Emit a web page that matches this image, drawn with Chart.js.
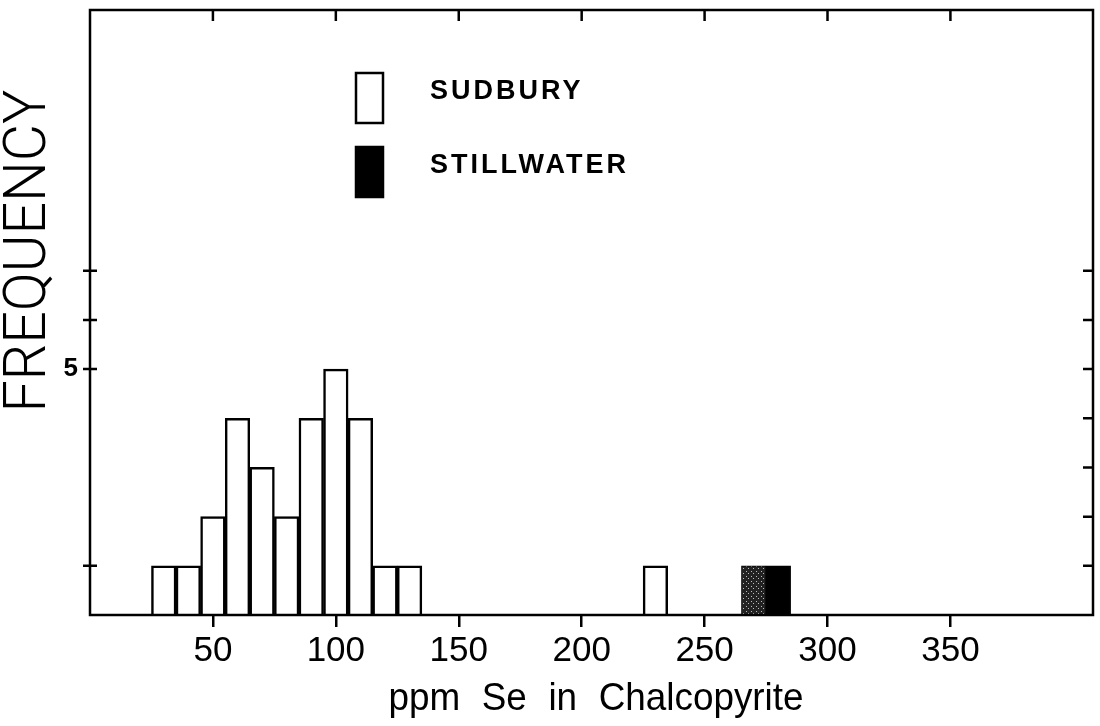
<!DOCTYPE html>
<html>
<head>
<meta charset="utf-8">
<script src="https://cdn.jsdelivr.net/npm/chart.js@4.4.0/dist/chart.umd.min.js"></script>
<style>
  html, body { margin: 0; padding: 0; background: #fff; }
</style>
</head>
<body>
<canvas id="seChart" width="1100" height="726"></canvas>
<script>
// histogram bins (ppm Se, bin centre) and counts
const sudburyBins = [30, 40, 50, 60, 70, 80, 90, 100, 110, 120, 130, 230];
const sudburyCounts = [1, 1, 2, 4, 3, 2, 4, 5, 4, 1, 1, 1];
const stillwaterBins = [270, 280];
const stillwaterCounts = [1, 1];

// axis ticks
const xTicks = [50, 100, 150, 200, 250, 300, 350];
const leftTicks = [1, 5, 6, 7];
const rightTicks = [1, 2, 3, 4, 5, 6, 7];
const yLabelled = [5];

// dotted grey fill for the first stillwater bin
function stipple() {
  const c = document.createElement('canvas');
  c.width = 5; c.height = 5;
  const g = c.getContext('2d');
  g.fillStyle = '#222';
  g.fillRect(0, 0, 5, 5);
  g.fillStyle = '#bbb';
  g.fillRect(1, 1, 1, 1);
  g.fillRect(3, 3, 1, 1);
  return g.createPattern(c, 'repeat');
}

const frame = {
  id: 'frame',
  afterDatasetsDraw(chart) {
    const { ctx, chartArea: a, scales: { x, y } } = chart;
    ctx.save();
    ctx.strokeStyle = '#000';
    ctx.fillStyle = '#000';
    ctx.lineWidth = 2.5;
    ctx.strokeRect(a.left, a.top, a.right - a.left, a.bottom - a.top);

    // inner tick marks on top, left and right edges
    ctx.lineWidth = 2.5;
    ctx.beginPath();
    xTicks.forEach(v => {
      const px = x.getPixelForValue(v);
      ctx.moveTo(px, a.top); ctx.lineTo(px, a.top + 11);
    });
    leftTicks.forEach(v => {
      const py = y.getPixelForValue(v);
      ctx.moveTo(a.left - 7, py); ctx.lineTo(a.left + 7, py);
    });
    rightTicks.forEach(v => {
      const py = y.getPixelForValue(v);
      ctx.moveTo(a.right - 10, py); ctx.lineTo(a.right, py);
    });
    ctx.stroke();

    // legend
    chart.data.datasets.forEach((ds, i) => {
      const bx = a.left + 266, by = 73 + i * 74;
      ctx.fillStyle = ds.legendFill;
      ctx.fillRect(bx, by, 27, 50);
      ctx.lineWidth = 2.5;
      ctx.strokeRect(bx, by, 27, 50);
      ctx.fillStyle = '#000';
      ctx.font = 'bold 27px "Liberation Sans", Arial, sans-serif';
      ctx.letterSpacing = '3px';
      ctx.textBaseline = 'middle';
      ctx.textAlign = 'left';
      ctx.fillText(ds.label, a.left + 340, by + 19);
    });
    ctx.letterSpacing = '0px';

    // y title
    ctx.save();
    ctx.translate(30, 251);
    ctx.rotate(-Math.PI / 2);
    ctx.font = '300 60px Roboto, "Liberation Sans", sans-serif';
    ctx.textAlign = 'center';
    ctx.textBaseline = 'middle';
    const yt = 'FREQUENCY';
    ctx.scale(323 / ctx.measureText(yt).width, 1);
    ctx.fillText(yt, 0, 0);
    ctx.restore();

    // x title
    ctx.save();
    ctx.font = '39px "Liberation Sans", Arial, sans-serif';
    ctx.wordSpacing = '12px';
    ctx.textAlign = 'center';
    ctx.textBaseline = 'alphabetic';
    const xt = 'ppm Se in Chalcopyrite';
    ctx.translate(596, 710);
    ctx.scale(415 / ctx.measureText(xt).width, 1);
    ctx.fillText(xt, 0, 0);
    ctx.restore();

    ctx.restore();
  }
};

const ctx = document.getElementById('seChart').getContext('2d');
new Chart(ctx, {
  type: 'bar',
  data: {
    datasets: [
      {
        label: 'SUDBURY',
        data: sudburyBins.map((b, i) => ({ x: b, y: sudburyCounts[i] })),
        backgroundColor: '#fff',
        borderColor: '#000',
        borderWidth: 2.5,
        legendFill: '#fff',
        barPercentage: 1,
        categoryPercentage: 1,
        grouped: false
      },
      {
        label: 'STILLWATER',
        data: stillwaterBins.map((b, i) => ({ x: b, y: stillwaterCounts[i] })),
        backgroundColor: [stipple(), '#000'],
        borderColor: '#000',
        borderWidth: 1,
        legendFill: '#000',
        barPercentage: 1,
        categoryPercentage: 1,
        grouped: false
      }
    ]
  },
  options: {
    responsive: false,
    animation: false,
    layout: { padding: { top: 10, right: 7 } },
    plugins: { legend: { display: false }, tooltip: { enabled: false } },
    scales: {
      x: {
        type: 'linear',
        min: 0,
        max: 408,
        offset: false,
        afterFit(s) { s.height = 111; s.paddingLeft = 0; s.paddingRight = 0; },
        afterBuildTicks(s) { s.ticks = xTicks.map(v => ({ value: v })); },
        grid: { offset: false, drawOnChartArea: false, drawTicks: true, tickLength: 12, color: '#000', lineWidth: 2.5 },
        border: { display: false },
        ticks: {
          color: '#000',
          padding: 3,
          maxRotation: 0,
          autoSkip: false,
          font: { family: '"Liberation Sans", Arial, sans-serif', size: 35 }
        }
      },
      y: {
        min: 0,
        max: 12.3,
        afterFit(s) { s.width = 90; s.paddingTop = 0; s.paddingBottom = 0; },
        grid: { display: false, drawTicks: false },
        border: { display: false },
        ticks: {
          stepSize: 1,
          padding: 12,
          color: '#000',
          font: { family: '"Liberation Sans", Arial, sans-serif', size: 26, weight: 'bold' },
          callback: v => yLabelled.includes(v) ? String(v) : ''
        }
      }
    }
  },
  plugins: [frame]
});
</script>
</body>
</html>
